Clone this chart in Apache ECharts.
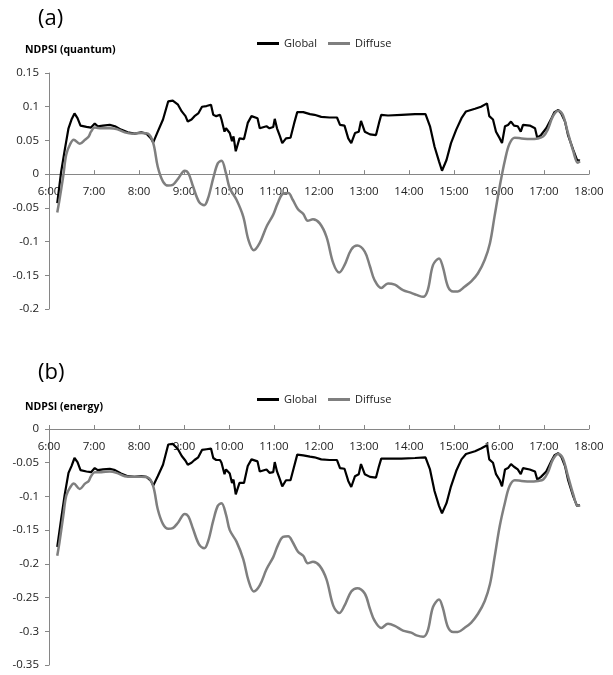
<!DOCTYPE html>
<html>
<head>
<meta charset="utf-8">
<script src="https://cdn.jsdelivr.net/npm/echarts@6/dist/echarts.min.js"></script>
<style>
  html, body { margin: 0; padding: 0; background: #fff; }
  #chart { width: 613px; height: 675px; }
</style>
</head>
<body>
<div id="chart"></div>
<script>
// sample times (h:mm) for the Global curve, shared by both panels
var globalTimes = ['6:11','6:16','6:21','6:26','6:30','6:34','6:38','6:42','6:50','6:56',
  '7:01','7:05','7:12','7:21','7:28','7:36','7:45','7:54','8:03','8:10','8:16','8:19','8:25',
  '8:32','8:39','8:45','8:52','8:57','9:02','9:05','9:10','9:14','9:19','9:24','9:30','9:36',
  '9:39','9:43','9:48','9:50','9:54','9:56','10:01','10:04','10:06','10:09','10:14','10:20',
  '10:25','10:30','10:38','10:41','10:50','10:54','10:59','11:01','11:04','11:08','11:11',
  '11:16','11:22','11:27','11:31','11:39','11:48','11:54','12:03','12:14','12:24','12:28',
  '12:34','12:39','12:43','12:48','12:53','12:56','13:01','13:08','13:16','13:20','13:23',
  '13:32','13:50','14:08','14:22','14:28','14:34','14:40','14:44','14:50','14:56','15:03',
  '15:10','15:16','15:28','15:36','15:44','15:47','15:52','15:56','16:01','16:04','16:08',
  '16:12','16:16','16:20','16:25','16:29','16:32','16:41','16:48','16:51','16:56','17:03',
  '17:10','17:14','17:19','17:23','17:28','17:32','17:39','17:44','17:48'];

var globalQuantum = [-0.043,0.002,0.036,0.068,0.081,0.090,0.083,0.072,0.070,0.069,
  0.075,0.071,0.072,0.073,0.071,0.066,0.062,0.060,0.062,0.060,0.053,0.047,0.063,
  0.081,0.108,0.109,0.103,0.093,0.086,0.078,0.081,0.086,0.090,0.100,0.101,0.103,
  0.088,0.086,0.088,0.081,0.063,0.068,0.061,0.049,0.056,0.034,0.053,0.052,
  0.076,0.086,0.083,0.068,0.071,0.068,0.070,0.082,0.068,0.056,0.046,
  0.053,0.054,0.076,0.092,0.092,0.089,0.088,0.085,0.084,0.084,0.073,
  0.072,0.053,0.046,0.061,0.063,0.079,0.063,0.059,0.058,0.076,0.088,
  0.087,0.088,0.089,0.089,0.071,0.041,0.019,0.005,0.021,0.046,0.066,
  0.083,0.093,0.097,0.100,0.105,0.086,0.081,0.063,0.053,0.046,0.071,
  0.073,0.078,0.072,0.071,0.063,0.073,0.072,0.068,0.054,0.058,0.068,
  0.083,0.092,0.095,0.090,0.078,0.058,0.036,0.021,0.020];

var globalEnergy = [-0.175,-0.135,-0.097,-0.065,-0.055,-0.043,-0.049,-0.061,-0.063,-0.064,
  -0.058,-0.061,-0.060,-0.059,-0.061,-0.066,-0.070,-0.071,-0.070,-0.071,-0.077,-0.084,-0.070,
  -0.053,-0.023,-0.022,-0.030,-0.040,-0.047,-0.053,-0.050,-0.046,-0.042,-0.031,-0.030,-0.029,
  -0.043,-0.046,-0.046,-0.050,-0.067,-0.060,-0.066,-0.080,-0.075,-0.097,-0.080,-0.080,
  -0.055,-0.045,-0.048,-0.063,-0.060,-0.065,-0.064,-0.049,-0.063,-0.075,-0.085,
  -0.076,-0.076,-0.055,-0.038,-0.039,-0.041,-0.042,-0.045,-0.046,-0.046,-0.058,
  -0.059,-0.077,-0.086,-0.070,-0.067,-0.052,-0.067,-0.071,-0.072,-0.055,-0.044,
  -0.044,-0.044,-0.043,-0.042,-0.060,-0.092,-0.114,-0.125,-0.110,-0.085,-0.062,
  -0.045,-0.037,-0.033,-0.029,-0.024,-0.045,-0.050,-0.067,-0.076,-0.085,-0.060,
  -0.058,-0.052,-0.056,-0.060,-0.067,-0.058,-0.060,-0.063,-0.075,-0.071,-0.063,
  -0.047,-0.039,-0.036,-0.041,-0.055,-0.075,-0.100,-0.114,-0.113];

// sample times for the Diffuse curve
var diffuseTimes = ['6:11','6:14','6:19','6:23','6:28','6:33','6:41','6:48','6:53','6:56',
  '7:01','7:10','7:21','7:30','7:41','7:52','8:03','8:12','8:19','8:25','8:32','8:39','8:45',
  '8:52','9:01','9:06','9:12','9:20','9:27','9:32','9:39','9:45','9:50','9:56','10:01',
  '10:10','10:19','10:26','10:33','10:41','10:50','10:59','11:05','11:12','11:19','11:25',
  '11:32','11:39','11:45','11:52','12:01','12:10','12:19','12:27','12:34','12:43','12:51',
  '13:01','13:08','13:14','13:23','13:32','13:41','13:52','14:03','14:10','14:19','14:25',
  '14:32','14:40','14:45','14:52','14:59','15:05','15:14','15:23','15:32','15:41','15:48',
  '15:54','16:01','16:08','16:14','16:21','16:30','16:41','16:52','16:59','17:05','17:12',
  '17:19','17:25','17:32','17:39','17:45','17:48'];

var diffuseQuantum = [-0.057,-0.038,-0.003,0.029,0.044,0.051,0.045,0.051,0.056,0.063,
  0.069,0.068,0.068,0.067,0.062,0.060,0.061,0.060,0.046,0.011,-0.011,-0.017,-0.016,
  -0.007,0.005,0.001,-0.018,-0.041,-0.046,-0.036,-0.006,0.016,0.020,0.001,-0.021,
  -0.038,-0.063,-0.098,-0.113,-0.102,-0.078,-0.060,-0.043,-0.029,-0.028,-0.038,
  -0.052,-0.059,-0.069,-0.067,-0.073,-0.093,-0.132,-0.146,-0.135,-0.112,-0.106,
  -0.115,-0.137,-0.157,-0.169,-0.162,-0.164,-0.172,-0.176,-0.179,-0.182,-0.172,
  -0.135,-0.125,-0.137,-0.167,-0.174,-0.174,-0.167,-0.159,-0.147,-0.127,-0.102,
  -0.063,-0.018,0.021,0.045,0.054,0.053,0.052,0.053,0.056,0.066,0.086,
  0.094,0.088,0.061,0.034,0.017,0.019];

var diffuseEnergy = [-0.188,-0.168,-0.129,-0.099,-0.087,-0.081,-0.089,-0.081,-0.077,-0.070,
  -0.064,-0.064,-0.063,-0.065,-0.070,-0.071,-0.071,-0.072,-0.085,-0.119,-0.141,-0.148,-0.147,
  -0.139,-0.126,-0.130,-0.148,-0.171,-0.177,-0.167,-0.136,-0.114,-0.110,-0.127,-0.150,
  -0.167,-0.193,-0.225,-0.241,-0.232,-0.208,-0.190,-0.173,-0.160,-0.159,-0.168,
  -0.182,-0.188,-0.199,-0.197,-0.203,-0.223,-0.262,-0.273,-0.262,-0.241,-0.236,
  -0.244,-0.267,-0.284,-0.295,-0.289,-0.292,-0.299,-0.302,-0.306,-0.308,-0.299,
  -0.264,-0.253,-0.265,-0.294,-0.301,-0.301,-0.295,-0.287,-0.274,-0.255,-0.230,
  -0.191,-0.144,-0.109,-0.085,-0.076,-0.077,-0.078,-0.077,-0.075,-0.065,-0.045,
  -0.037,-0.043,-0.070,-0.097,-0.114,-0.113];

var panelTitles = ['(a)', '(b)'];
var axisNames = ['NDPSI (quantum)', 'NDPSI (energy)'];

function toHour(t) {
  var p = t.split(':');
  return +p[0] + (+p[1]) / 60;
}
function pairs(times, vals) {
  return times.map(function (t, i) { return [toHour(t), vals[i]]; });
}

var font = '"Open Sans", sans-serif';
var axisGray = '#868686';
var gridHeight = 236;

// x axis drawn at value 0 of the y range, labels below the line
function xAxisFor(idx, ymin, ymax) {
  var shift = gridHeight * (0 - ymin) / (ymax - ymin);
  return {
    gridIndex: idx,
    type: 'value',
    position: 'bottom',
    offset: -shift,
    min: 6, max: 18, interval: 1,
    axisLine: { onZero: false, lineStyle: { color: axisGray, width: 1 } },
    axisTick: { inside: true, length: 4, lineStyle: { color: axisGray } },
    splitLine: { show: false },
    axisLabel: {
      margin: 12, color: '#222', fontFamily: font, fontSize: 11.5,
      formatter: function (v) { return v + ':00'; }
    }
  };
}
function yAxisFor(idx, min, max) {
  return {
    gridIndex: idx,
    type: 'value',
    min: min, max: max, interval: 0.05,
    axisLine: { show: true, onZero: false, lineStyle: { color: axisGray, width: 1 } },
    axisTick: { show: true, length: 4, lineStyle: { color: axisGray } },
    splitLine: { show: false },
    axisLabel: {
      margin: 10, color: '#222', fontFamily: font, fontSize: 11.5,
      formatter: function (v) { return String(Math.round(v * 100) / 100); }
    }
  };
}
function lineSeries(name, idx, data, color, width, smooth) {
  return {
    name: name, type: 'line',
    xAxisIndex: idx, yAxisIndex: idx,
    data: data,
    showSymbol: false, symbol: 'none',
    smooth: smooth,
    lineStyle: { color: color, width: width },
    itemStyle: { color: color }
  };
}
function legendFor(top) {
  return {
    top: top, left: 252,
    icon: 'rect', itemWidth: 22, itemHeight: 3, itemGap: 11,
    textStyle: { fontFamily: font, fontSize: 11, color: '#222' },
    data: ['Global', 'Diffuse']
  };
}

var chart = echarts.init(document.getElementById('chart'), null, { renderer: 'canvas' });
chart.setOption({
  animation: false,
  backgroundColor: '#fff',
  title: [
    { text: panelTitles[0], left: 33, top: 3, textStyle: { fontFamily: font, fontSize: 22, fontWeight: 'normal', color: '#000' } },
    { text: axisNames[0], left: 20, top: 40, textStyle: { fontFamily: font, fontSize: 10.5, fontWeight: 'bold', color: '#000' } },
    { text: panelTitles[1], left: 33, top: 357, textStyle: { fontFamily: font, fontSize: 22, fontWeight: 'normal', color: '#000' } },
    { text: axisNames[1], left: 20, top: 397, textStyle: { fontFamily: font, fontSize: 10.5, fontWeight: 'bold', color: '#000' } }
  ],
  legend: [legendFor(33), legendFor(389)],
  grid: [
    { left: 49, right: 24, top: 73, height: gridHeight },
    { left: 49, right: 24, top: 429, height: gridHeight }
  ],
  xAxis: [xAxisFor(0, -0.2, 0.15), xAxisFor(1, -0.35, 0)],
  yAxis: [yAxisFor(0, -0.2, 0.15), yAxisFor(1, -0.35, 0)],
  series: [
    lineSeries('Global', 0, pairs(globalTimes, globalQuantum), '#000000', 2.2, false),
    lineSeries('Diffuse', 0, pairs(diffuseTimes, diffuseQuantum), '#7f7f7f', 2.5, 0.35),
    lineSeries('Global', 1, pairs(globalTimes, globalEnergy), '#000000', 2.2, false),
    lineSeries('Diffuse', 1, pairs(diffuseTimes, diffuseEnergy), '#7f7f7f', 2.5, 0.35)
  ]
});
</script>
</body>
</html>
